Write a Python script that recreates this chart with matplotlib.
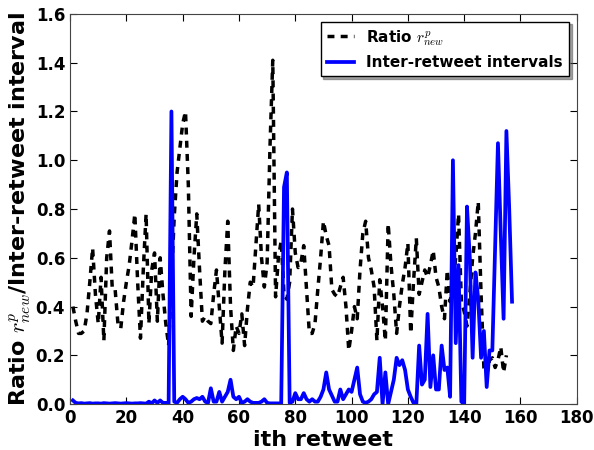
import matplotlib
matplotlib.use('Agg')
import matplotlib.pyplot as plt
import numpy as np

# Ratio r^p_new per retweet (black dashed)
ratio = [0.40, 0.34, 0.29, 0.29, 0.30, 0.37, 0.50, 0.64, 0.45, 0.33,
         0.52, 0.26, 0.60, 0.71, 0.47, 0.47, 0.33, 0.31, 0.42, 0.50,
         0.57, 0.67, 0.78, 0.50, 0.27, 0.55, 0.78, 0.33, 0.55, 0.62,
         0.34, 0.60, 0.45, 0.33, 0.24, 0.50, 0.77, 0.95, 1.05, 1.15,
         1.20, 0.90, 0.36, 0.60, 0.78, 0.55, 0.34, 0.36, 0.34, 0.33,
         0.45, 0.55, 0.40, 0.25, 0.55, 0.75, 0.40, 0.22, 0.32, 0.29,
         0.37, 0.24, 0.39, 0.50, 0.48, 0.65, 0.82, 0.60, 0.48, 0.58,
         1.05, 1.41, 0.44, 0.60, 0.67, 0.45, 0.43, 0.50, 0.80, 0.62,
         0.56, 0.58, 0.65, 0.47, 0.29, 0.29, 0.33, 0.47, 0.60, 0.75,
         0.69, 0.65, 0.47, 0.45, 0.44, 0.48, 0.52, 0.40, 0.22, 0.30,
         0.40, 0.35, 0.55, 0.70, 0.75, 0.60, 0.55, 0.48, 0.26, 0.51,
         0.40, 0.26, 0.74, 0.57, 0.45, 0.29, 0.40, 0.49, 0.56, 0.66,
         0.29, 0.50, 0.68, 0.45, 0.50, 0.55, 0.52, 0.57, 0.63, 0.52,
         0.48, 0.40, 0.35, 0.55, 0.42, 0.50, 0.60, 0.78, 0.42, 0.38,
         0.32, 0.45, 0.60, 0.70, 0.83, 0.45, 0.15, 0.12, 0.18, 0.19,
         0.15, 0.18, 0.235, 0.13, 0.20]

# Inter-retweet intervals (blue solid)
intervals = [0.015, 0.005, 0.003, 0.004, 0.002, 0.003, 0.004, 0.002, 0.003, 0.003,
             0.002, 0.004, 0.003, 0.002, 0.003, 0.004, 0.003, 0.002, 0.003, 0.004,
             0.003, 0.002, 0.003, 0.003, 0.004, 0.003, 0.002, 0.010, 0.003, 0.015,
             0.005, 0.015, 0.005, 0.005, 0.002, 1.20, 0.01, 0.005, 0.02, 0.03,
             0.02, 0.005, 0.01, 0.02, 0.025, 0.02, 0.03, 0.01, 0.005, 0.065,
             0.01, 0.01, 0.05, 0.01, 0.03, 0.05, 0.10, 0.03, 0.02, 0.03,
             0.005, 0.01, 0.02, 0.01, 0.005, 0.005, 0.005, 0.01, 0.02, 0.005,
             0.003, 0.003, 0.003, 0.003, 0.003, 0.89, 0.95, 0.005, 0.01, 0.045,
             0.02, 0.02, 0.045, 0.02, 0.01, 0.02, 0.01, 0.01, 0.03, 0.06,
             0.13, 0.06, 0.035, 0.01, 0.01, 0.06, 0.02, 0.04, 0.06, 0.05,
             0.10, 0.15, 0.04, 0.01, 0.005, 0.01, 0.02, 0.04, 0.05, 0.19,
             0.0, 0.13, 0.0, 0.05, 0.10, 0.19, 0.16, 0.18, 0.14, 0.06,
             0.03, 0.005, 0.0, 0.24, 0.08, 0.10, 0.37, 0.07, 0.20, 0.06,
             0.06, 0.24, 0.14, 0.15, 0.03, 1.00, 0.25, 0.57, 0.01, 0.0,
             0.81, 0.60, 0.19, 0.54, 0.43, 0.19, 0.30, 0.07, 0.22, 0.22,
             0.65, 1.07, 0.70, 0.35, 1.12, 0.80, 0.42]

x_ratio = np.arange(1, len(ratio) + 1)
x_int = np.arange(1, len(intervals) + 1)

plt.rcParams['font.weight'] = 'bold'
plt.rcParams['axes.labelweight'] = 'bold'
plt.rcParams['mathtext.fontset'] = 'cm'
plt.rcParams['xtick.direction'] = 'in'
plt.rcParams['ytick.direction'] = 'in'

fig = plt.figure(figsize=(5.94, 4.5), dpi=100)
ax = fig.add_axes([0.118, 0.102, 0.853, 0.867])
ax.plot(x_ratio, ratio, color='black', lw=2.5, linestyle='--', dashes=(2.0, 1.8),
        label=r'Ratio $r^p_{new}$')
ax.plot(x_int, intervals, color='blue', lw=2.7, label='Inter-retweet intervals')

ax.set_xlim(0, 180)
ax.set_ylim(0, 1.6)
ax.set_xticks(np.arange(0, 181, 20))
ax.set_yticks(np.arange(0, 1.61, 0.2))
ax.set_yticklabels(['{:.1f}'.format(v) for v in np.arange(0, 1.61, 0.2)])
ax.tick_params(labelsize=12, top=True, right=True, length=5, width=0.8)
ax.set_xlabel('ith retweet', fontsize=16, labelpad=2)
ax.set_ylabel(r'Ratio $r^p_{new}$/Inter-retweet interval', fontsize=16, labelpad=2)
for s in ax.spines.values():
    s.set_color('#444444')

leg = ax.legend(loc='upper right', fontsize=11, shadow=True, fancybox=False,
                framealpha=1, edgecolor='black', handlelength=1.8,
                borderaxespad=0.5)
leg.get_frame().set_linewidth(1.0)

fig.savefig('out.png', dpi=100)
